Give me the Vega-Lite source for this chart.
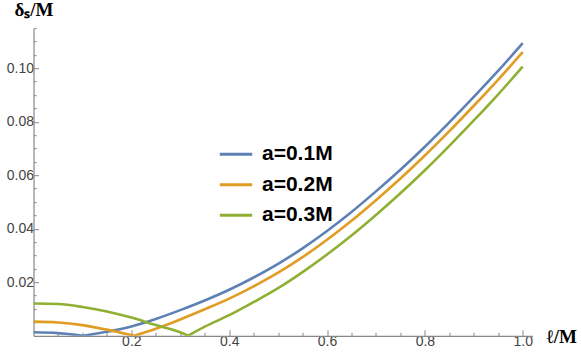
{
  "$schema": "https://vega.github.io/schema/vega-lite/v6.json",
  "width": 499,
  "height": 307.6,
  "autosize": {"type": "none"},
  "padding": {"left": 33.5, "top": 28.2, "right": 48.5, "bottom": 17.2},
  "config": {"view": {"stroke": null}, "axis": {"grid": false}},
  "data": {"values": [
    {"l": 0, "d": 0.0013, "s": "a=0.1M", "p": "L"},
    {"l": 0.05, "d": 0.0010, "s": "a=0.1M", "p": "L"},
    {"l": 0.102, "d": 0, "s": "a=0.1M", "p": "L"},
    {"l": 0.102, "d": 0, "s": "a=0.1M", "p": "R"},
    {"l": 0.15, "d": 0.0015, "s": "a=0.1M", "p": "R"},
    {"l": 0.2, "d": 0.0035, "s": "a=0.1M", "p": "R"},
    {"l": 0.25, "d": 0.0063, "s": "a=0.1M", "p": "R"},
    {"l": 0.3, "d": 0.0096, "s": "a=0.1M", "p": "R"},
    {"l": 0.35, "d": 0.0132, "s": "a=0.1M", "p": "R"},
    {"l": 0.4, "d": 0.0172, "s": "a=0.1M", "p": "R"},
    {"l": 0.45, "d": 0.0218, "s": "a=0.1M", "p": "R"},
    {"l": 0.5, "d": 0.0269, "s": "a=0.1M", "p": "R"},
    {"l": 0.55, "d": 0.0327, "s": "a=0.1M", "p": "R"},
    {"l": 0.6, "d": 0.0392, "s": "a=0.1M", "p": "R"},
    {"l": 0.65, "d": 0.0463, "s": "a=0.1M", "p": "R"},
    {"l": 0.7, "d": 0.0540, "s": "a=0.1M", "p": "R"},
    {"l": 0.75, "d": 0.0621, "s": "a=0.1M", "p": "R"},
    {"l": 0.8, "d": 0.0707, "s": "a=0.1M", "p": "R"},
    {"l": 0.85, "d": 0.0798, "s": "a=0.1M", "p": "R"},
    {"l": 0.9, "d": 0.0893, "s": "a=0.1M", "p": "R"},
    {"l": 0.95, "d": 0.0991, "s": "a=0.1M", "p": "R"},
    {"l": 1.0, "d": 0.1094, "s": "a=0.1M", "p": "R"},
    {"l": 0, "d": 0.0053, "s": "a=0.2M", "p": "L"},
    {"l": 0.05, "d": 0.0050, "s": "a=0.2M", "p": "L"},
    {"l": 0.1, "d": 0.0040, "s": "a=0.2M", "p": "L"},
    {"l": 0.15, "d": 0.0023, "s": "a=0.2M", "p": "L"},
    {"l": 0.206, "d": 0, "s": "a=0.2M", "p": "L"},
    {"l": 0.206, "d": 0, "s": "a=0.2M", "p": "R"},
    {"l": 0.25, "d": 0.0026, "s": "a=0.2M", "p": "R"},
    {"l": 0.3, "d": 0.0061, "s": "a=0.2M", "p": "R"},
    {"l": 0.35, "d": 0.0099, "s": "a=0.2M", "p": "R"},
    {"l": 0.4, "d": 0.0139, "s": "a=0.2M", "p": "R"},
    {"l": 0.45, "d": 0.0185, "s": "a=0.2M", "p": "R"},
    {"l": 0.5, "d": 0.0236, "s": "a=0.2M", "p": "R"},
    {"l": 0.55, "d": 0.0294, "s": "a=0.2M", "p": "R"},
    {"l": 0.6, "d": 0.0359, "s": "a=0.2M", "p": "R"},
    {"l": 0.65, "d": 0.0430, "s": "a=0.2M", "p": "R"},
    {"l": 0.7, "d": 0.0507, "s": "a=0.2M", "p": "R"},
    {"l": 0.75, "d": 0.0588, "s": "a=0.2M", "p": "R"},
    {"l": 0.8, "d": 0.0674, "s": "a=0.2M", "p": "R"},
    {"l": 0.85, "d": 0.0765, "s": "a=0.2M", "p": "R"},
    {"l": 0.9, "d": 0.0860, "s": "a=0.2M", "p": "R"},
    {"l": 0.95, "d": 0.0958, "s": "a=0.2M", "p": "R"},
    {"l": 1.0, "d": 0.1061, "s": "a=0.2M", "p": "R"},
    {"l": 0, "d": 0.0121, "s": "a=0.3M", "p": "L"},
    {"l": 0.05, "d": 0.0119, "s": "a=0.3M", "p": "L"},
    {"l": 0.1, "d": 0.0108, "s": "a=0.3M", "p": "L"},
    {"l": 0.15, "d": 0.0091, "s": "a=0.3M", "p": "L"},
    {"l": 0.2, "d": 0.0068, "s": "a=0.3M", "p": "L"},
    {"l": 0.25, "d": 0.0040, "s": "a=0.3M", "p": "L"},
    {"l": 0.3, "d": 0.0013, "s": "a=0.3M", "p": "L"},
    {"l": 0.316, "d": 0, "s": "a=0.3M", "p": "L"},
    {"l": 0.316, "d": 0, "s": "a=0.3M", "p": "R"},
    {"l": 0.35, "d": 0.0034, "s": "a=0.3M", "p": "R"},
    {"l": 0.4, "d": 0.0077, "s": "a=0.3M", "p": "R"},
    {"l": 0.45, "d": 0.0126, "s": "a=0.3M", "p": "R"},
    {"l": 0.5, "d": 0.0178, "s": "a=0.3M", "p": "R"},
    {"l": 0.55, "d": 0.0238, "s": "a=0.3M", "p": "R"},
    {"l": 0.6, "d": 0.0304, "s": "a=0.3M", "p": "R"},
    {"l": 0.65, "d": 0.0375, "s": "a=0.3M", "p": "R"},
    {"l": 0.7, "d": 0.0452, "s": "a=0.3M", "p": "R"},
    {"l": 0.75, "d": 0.0533, "s": "a=0.3M", "p": "R"},
    {"l": 0.8, "d": 0.0619, "s": "a=0.3M", "p": "R"},
    {"l": 0.85, "d": 0.0710, "s": "a=0.3M", "p": "R"},
    {"l": 0.9, "d": 0.0805, "s": "a=0.3M", "p": "R"},
    {"l": 0.95, "d": 0.0903, "s": "a=0.3M", "p": "R"},
    {"l": 1.0, "d": 0.1006, "s": "a=0.3M", "p": "R"}
  ]},
  "layer": [
    {
      "mark": {"type": "line", "opacity": 0},
      "encoding": {
        "x": {"field": "l", "type": "quantitative", "scale": {"domain": [0, 1.02], "nice": false, "zero": false},
          "axis": {"orient": "bottom", "values": [0.05,0.1,0.15,0.25,0.3,0.35,0.45,0.5,0.55,0.65,0.7,0.75,0.85,0.9,0.95], "labels": false, "domain": false, "tickSize": -3.5, "tickColor": "#888", "tickWidth": 1, "title": null}},
        "y": {"field": "d", "type": "quantitative", "scale": {"domain": [0, 0.115], "nice": false},
          "axis": {"orient": "left", "values": [0.005,0.01,0.015,0.025,0.03,0.035,0.045,0.05,0.055,0.065,0.07,0.075,0.085,0.09,0.095,0.105,0.11,0.115], "labels": false, "domain": false, "tickSize": -2.7, "tickColor": "#888", "tickWidth": 1, "title": null}},
        "detail": {"field": "s"}
      }
    },
    {
      "mark": {"type": "line", "strokeWidth": 2.6, "interpolate": "monotone", "clip": true},
      "encoding": {
        "x": {"field": "l", "type": "quantitative", "scale": {"domain": [0, 1.02], "nice": false, "zero": false},
          "axis": {"orient": "bottom", "values": [0.2,0.4,0.6,0.8,1.0], "format": ".1f", "tickSize": -6, "tickColor": "#888", "domainColor": "#888", "domainWidth": 1.2, "tickWidth": 1, "labelPadding": 5, "labelFont": "Liberation Sans", "labelFontSize": 14, "labelColor": "#444",
            "title": "ℓ/M", "titleFont": "Liberation Serif", "titleFontSize": 19, "titleFontWeight": "bold", "titleColor": "#000", "titleX": 512.5, "titleY": 1, "titleAlign": "left", "titleBaseline": "middle", "titleAnchor": "start"}},
        "y": {"field": "d", "type": "quantitative", "scale": {"domain": [0, 0.115], "nice": false},
          "axis": {"orient": "left", "values": [0.02,0.04,0.06,0.08,0.1], "format": ".2f", "tickSize": -5, "tickColor": "#888", "domainColor": "#888", "domainWidth": 1.2, "tickWidth": 1, "labelPadding": 5, "labelFont": "Liberation Sans", "labelFontSize": 14, "labelColor": "#444",
            "title": "δₛ/M", "titleFont": "Liberation Serif", "titleFontSize": 19, "titleFontWeight": "bold", "titleColor": "#000", "titleAngle": 0, "titleX": 0, "titleY": -19, "titleAlign": "center", "titleBaseline": "middle"}},
        "color": {"field": "s", "type": "nominal",
          "scale": {"domain": ["a=0.1M", "a=0.2M", "a=0.3M"], "range": ["#5E81B5", "#E19C24", "#8FB032"]},
          "legend": {"orient": "none", "legendX": 184.5, "legendY": 108, "title": null, "symbolType": "stroke", "symbolSize": 1050, "symbolStrokeWidth": 3, "labelFont": "Liberation Sans", "labelFontSize": 21, "labelFontWeight": "bold", "labelColor": "#000", "labelOffset": 8, "rowPadding": 2.5, "padding": 0}},
        "detail": {"field": "p"}
      }
    }
  ],
  "resolve": {"axis": {"x": "independent", "y": "independent"}}
}
